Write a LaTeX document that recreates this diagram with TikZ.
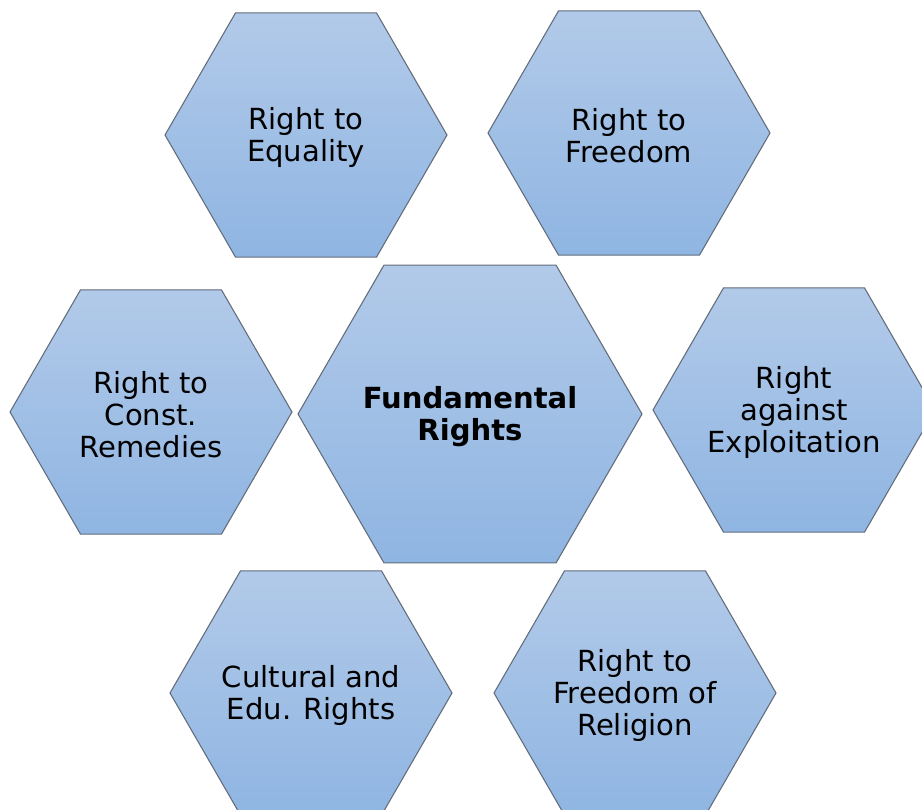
\documentclass[tikz,border=0pt]{standalone}
\usepackage{fontspec}
\setmainfont{DejaVu Sans}
\usetikzlibrary{shapes.geometric}
\definecolor{hextop}{RGB}{178,202,233}
\definecolor{hexbot}{RGB}{143,181,226}
\definecolor{hexline}{RGB}{98,108,122}
\begin{document}
\begin{tikzpicture}[x=0.75pt,y=-0.75pt,
  hexa/.style={regular polygon, regular polygon sides=6, draw=hexline, line width=0.8pt,
    top color=hextop, bottom color=hexbot, minimum size=211.5pt, inner sep=0pt},
  bighexa/.style={hexa, minimum size=258pt},
  hextext/.style={align=center, inner sep=0pt, yshift=-2pt, font=\fontsize{21.8}{24.2}\selectfont},
  bigtext/.style={hextext, font=\fontsize{21.8}{24.2}\selectfont\bfseries}]

\useasboundingbox (0,0) rectangle (922,810);
\clip (0,0) rectangle (922,810);

% outer ring
\node[hexa, label={[hextext]center:Right to\\Equality}] (equality) at (306,135) {};
\node[hexa, label={[hextext]center:Right to\\Freedom}] (freedom) at (629,133) {};
\node[hexa, label={[hextext]center:Right to\\Const.\\Remedies}] (remedies) at (151,412) {};
\node[hexa, label={[hextext]center:Right\\against\\Exploitation}] (exploit) at (794,410) {};
\node[hexa, label={[hextext]center:Cultural and\\Edu. Rights}] (culture) at (311,693) {};
\node[hexa, label={[hextext]center:Right to\\Freedom of\\Religion}] (religion) at (635,693) {};

% middle
\node[bighexa, label={[bigtext]center:Fundamental\\Rights}] (fundamental) at (470,414) {};

\end{tikzpicture}
\end{document}
